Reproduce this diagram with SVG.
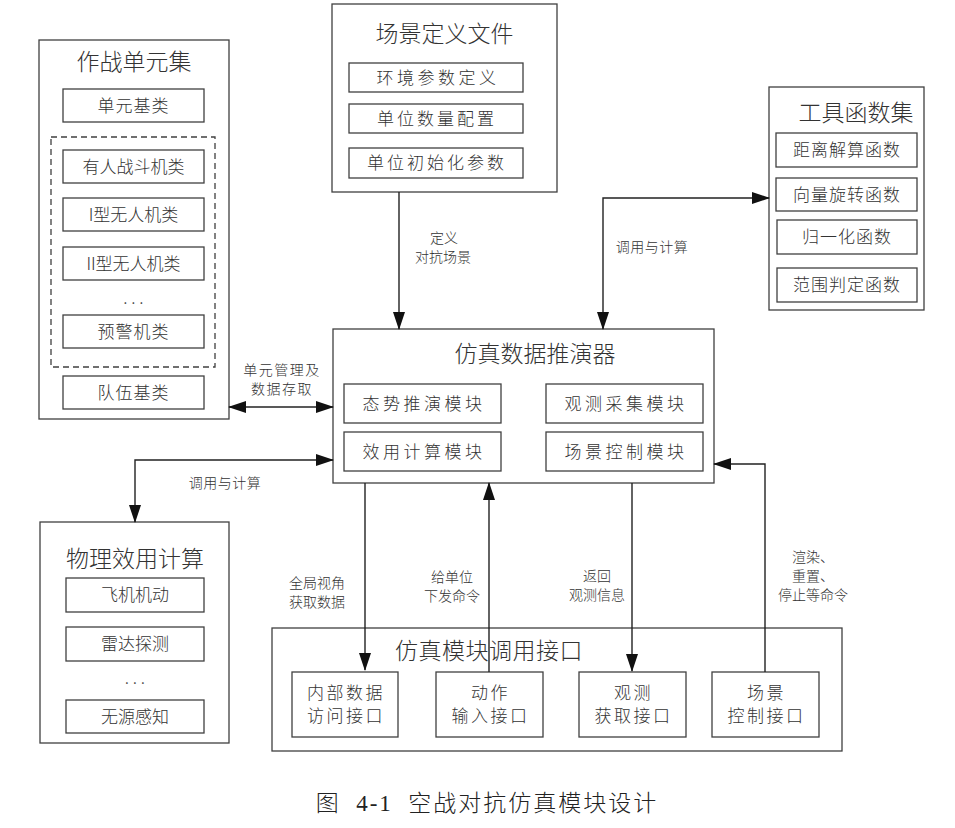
<svg xmlns="http://www.w3.org/2000/svg" width="955" height="828" viewBox="0 0 955 828">
<style>
.bx{fill:#fff;stroke:#404040;stroke-width:1.3}
.sb{fill:#fff;stroke:#404040;stroke-width:1.3}
.ds{fill:none;stroke:#404040;stroke-width:1.3;stroke-dasharray:6 4}
.ln{fill:none;stroke:#222;stroke-width:1.4}
text{font-family:"Noto Sans CJK SC","Noto Sans",sans-serif;fill:#333;text-anchor:middle;font-weight:300}
.t{font-size:23px}
.s{font-size:17px}
.l{font-size:14px}
.i{font-size:17px;letter-spacing:2.5px}
.cap{font-family:"Liberation Serif","Noto Sans CJK SC",serif;font-size:23px;fill:#222;letter-spacing:2px}
</style>
<defs>
<marker id="ah" viewBox="0 0 18 12" refX="17" refY="6" markerWidth="18" markerHeight="12" markerUnits="userSpaceOnUse" orient="auto-start-reverse">
<path d="M0,0 L18,6 L0,12 Z" fill="#111"/>
</marker>
</defs>

<g id="unit-set">
<rect class="bx" x="39" y="40" width="190" height="379"/>
<text class="t" x="134" y="70">作战单元集</text>
<rect class="sb" x="63" y="89" width="141" height="33"/>
<text class="s" x="133.5" y="111.5" style="letter-spacing:1px">单元基类</text>
<rect class="ds" x="51" y="137" width="164" height="230"/>
<rect class="sb" x="63" y="150" width="141" height="33"/>
<text class="s" x="133.5" y="172.5">有人战斗机类</text>
<rect class="sb" x="63" y="198" width="141" height="33"/>
<text class="s" x="133.5" y="220.5">I型无人机类</text>
<rect class="sb" x="63" y="247" width="141" height="33"/>
<text class="s" x="133.5" y="269.5">II型无人机类</text>
<text class="s" x="133.5" y="304">. . .</text>
<rect class="sb" x="63" y="315" width="141" height="33"/>
<text class="s" x="133.5" y="337.5" style="letter-spacing:1px">预警机类</text>
<rect class="sb" x="63" y="376" width="141" height="33"/>
<text class="s" x="133.5" y="398.5" style="letter-spacing:1px">队伍基类</text>
</g>

<g id="scene-file">
<rect class="bx" x="332" y="4" width="225" height="188"/>
<text class="t" x="444.5" y="41.5">场景定义文件</text>
<rect class="sb" x="349" y="63" width="174" height="29"/>
<text class="s" x="438" y="83.5" style="letter-spacing:3.5px">环境参数定义</text>
<rect class="sb" x="349" y="104" width="174" height="29"/>
<text class="s" x="437" y="124.5" style="letter-spacing:3px">单位数量配置</text>
<rect class="sb" x="349" y="148" width="174" height="30"/>
<text class="s" x="437" y="169" style="letter-spacing:3px">单位初始化参数</text>
</g>

<g id="tool-set">
<rect class="bx" x="769" y="87" width="155" height="223"/>
<text class="t" x="856" y="121">工具函数集</text>
<rect class="sb" x="776" y="133" width="141" height="34"/>
<text class="s" x="847" y="156" style="letter-spacing:1px">距离解算函数</text>
<rect class="sb" x="776" y="178" width="141" height="33"/>
<text class="s" x="847" y="200.5" style="letter-spacing:1px">向量旋转函数</text>
<rect class="sb" x="777" y="220" width="140" height="34"/>
<text class="s" x="847" y="243" style="letter-spacing:1px">归一化函数</text>
<rect class="sb" x="777" y="268" width="140" height="34"/>
<text class="s" x="847" y="291" style="letter-spacing:1px">范围判定函数</text>
</g>

<g id="sim-engine">
<rect class="bx" x="333" y="329" width="381" height="154"/>
<text class="t" x="535" y="361.5">仿真数据推演器</text>
<rect class="sb" x="344" y="384" width="157" height="39"/>
<text class="s" x="424" y="409.5" style="letter-spacing:3.5px">态势推演模块</text>
<rect class="sb" x="344" y="432" width="157" height="39"/>
<text class="s" x="424" y="457.5" style="letter-spacing:3.5px">效用计算模块</text>
<rect class="sb" x="546" y="384" width="157" height="39"/>
<text class="s" x="626" y="409.5" style="letter-spacing:3.5px">观测采集模块</text>
<rect class="sb" x="546" y="432" width="157" height="39"/>
<text class="s" x="626" y="457.5" style="letter-spacing:3.5px">场景控制模块</text>
</g>

<g id="physics">
<rect class="bx" x="40" y="522" width="189" height="221"/>
<text class="t" x="135" y="566.5">物理效用计算</text>
<rect class="sb" x="66" y="578" width="138" height="34"/>
<text class="s" x="135" y="601">飞机机动</text>
<rect class="sb" x="66" y="627" width="138" height="34"/>
<text class="s" x="135" y="650">雷达探测</text>
<text class="s" x="135" y="684">. . .</text>
<rect class="sb" x="66" y="700" width="138" height="33"/>
<text class="s" x="135" y="722.5">无源感知</text>
</g>

<g id="interface">
<rect class="bx" x="272" y="628" width="570" height="123"/>
<text class="t" x="489" y="658.5" style="letter-spacing:0.5px">仿真模块调用接口</text>
<rect class="sb" x="292" y="672" width="106" height="65"/>
<text class="i" x="346" y="699">内部数据</text>
<text class="i" x="346" y="722">访问接口</text>
<rect class="sb" x="436" y="672" width="107" height="65"/>
<text class="i" x="490.5" y="699">动作</text>
<text class="i" x="490.5" y="722">输入接口</text>
<rect class="sb" x="579" y="672" width="107" height="65"/>
<text class="i" x="633.5" y="699">观测</text>
<text class="i" x="633.5" y="722">获取接口</text>
<rect class="sb" x="712" y="672" width="107" height="65"/>
<text class="i" x="766.5" y="699">场景</text>
<text class="i" x="766.5" y="722">控制接口</text>
</g>

<g id="connectors">
<path class="ln" d="M399,192 V329" marker-end="url(#ah)"/>
<path class="ln" d="M603,329 V198 H769" marker-start="url(#ah)" marker-end="url(#ah)"/>
<path class="ln" d="M229,407 H333" marker-start="url(#ah)" marker-end="url(#ah)"/>
<path class="ln" d="M135,522 V460 H333" marker-start="url(#ah)" marker-end="url(#ah)"/>
<path class="ln" d="M365,483 V670" marker-end="url(#ah)"/>
<path class="ln" d="M489,672 V483" marker-end="url(#ah)"/>
<path class="ln" d="M632,483 V671" marker-end="url(#ah)"/>
<path class="ln" d="M765,672 V464 H714" marker-end="url(#ah)"/>
<text class="l" x="444" y="243">定义</text>
<text class="l" x="443" y="262">对抗场景</text>
<text class="l" x="652" y="252" style="letter-spacing:0.5px">调用与计算</text>
<text class="l" x="282" y="375" style="letter-spacing:1.5px">单元管理及</text>
<text class="l" x="282" y="394" style="letter-spacing:1.5px">数据存取</text>
<text class="l" x="225" y="488" style="letter-spacing:0.5px">调用与计算</text>
<text class="l" x="317" y="588">全局视角</text>
<text class="l" x="317" y="607">获取数据</text>
<text class="l" x="452" y="582">给单位</text>
<text class="l" x="452" y="601">下发命令</text>
<text class="l" x="597" y="581">返回</text>
<text class="l" x="597" y="600">观测信息</text>
<text class="l" x="813" y="562">渲染、</text>
<text class="l" x="813" y="581">重置、</text>
<text class="l" x="813" y="600">停止等命令</text>
</g>

<text class="cap" x="487" y="811" xml:space="preserve">图  4-1  空战对抗仿真模块设计</text>
</svg>
